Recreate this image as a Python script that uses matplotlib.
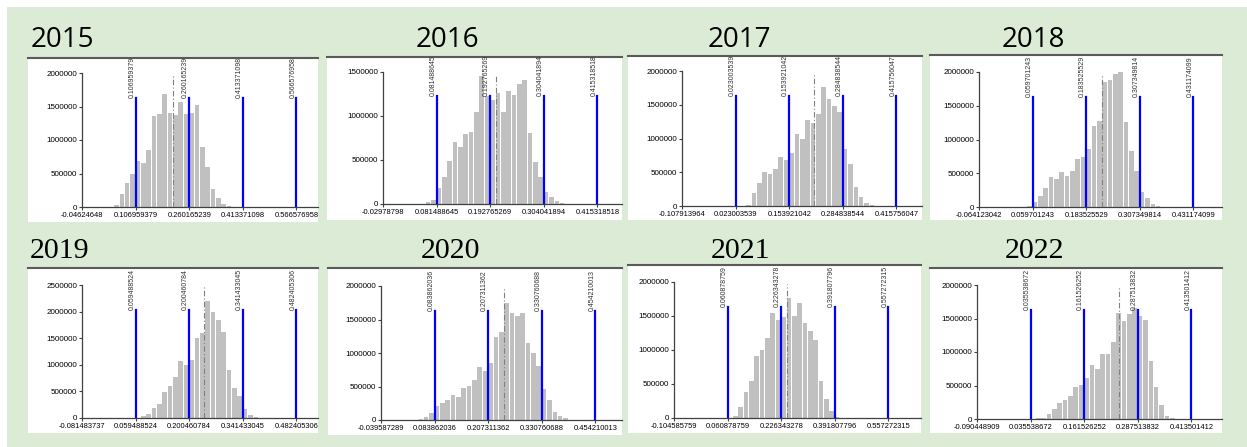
import matplotlib.pyplot as plt
from matplotlib.patches import Rectangle

# data
years = ['2015', '2016', '2017', '2018', '2019', '2020', '2021', '2022']

ticks_2015 = ['-0.04624648', '0.106959379', '0.260165239', '0.413371098', '0.566576958']
ticks_2016 = ['-0.02978798', '0.081488645', '0.192765269', '0.304041894', '0.415318518']
ticks_2017 = ['-0.107913964', '0.023003539', '0.153921042', '0.284838544', '0.415756047']
ticks_2018 = ['-0.064123042', '0.059701243', '0.183525529', '0.307349814', '0.431174099']
ticks_2019 = ['-0.081483737', '0.059488524', '0.200460784', '0.341433045', '0.482405306']
ticks_2020 = ['-0.039587289', '0.083862036', '0.207311362', '0.330760688', '0.454210013']
ticks_2021 = ['-0.104585759', '0.060878759', '0.226343278', '0.391807796', '0.557272315']
ticks_2022 = ['-0.090448909', '0.035538672', '0.161526252', '0.287513832', '0.413501412']

counts_2015 = [30000, 190000, 355000, 495000, 680000, 660000, 850000, 1360000, 1385000, 1680000,
               1410000, 1375000, 1560000, 1390000, 1410000, 1520000, 900000, 590000, 275000, 140000,
               50000, 15000, 5000]
counts_2016 = [4000, 19000, 50000, 179000, 309000, 485000, 706000, 649000, 798000, 821000,
               1050000, 1460000, 1230000, 1183000, 1267000, 1042000, 1283000, 1240000, 1366000, 1412000,
               805000, 477000, 309000, 137000, 76000, 31000, 11000, 4000]
counts_2017 = [20000, 193000, 347000, 500000, 470000, 554000, 728000, 678000, 787000, 1064000,
               1000000, 1272000, 1233000, 1356000, 1757000, 1579000, 1485000, 1396000, 851000, 629000,
               282000, 134000, 50000, 20000, 5000]
counts_2018 = [15000, 74000, 169000, 283000, 442000, 417000, 521000, 462000, 526000, 715000,
               740000, 854000, 1201000, 1276000, 1846000, 1886000, 1970000, 2005000, 1266000, 829000,
               536000, 218000, 139000, 40000, 15000, 5000]
counts_2019 = [8000, 31000, 75000, 187000, 262000, 487000, 606000, 769000, 1075000, 1000000,
               1094000, 1500000, 1594000, 2206000, 2000000, 1844000, 1625000, 894000, 562000, 406000,
               175000, 62000, 19000]
counts_2020 = [15000, 40000, 105000, 214000, 254000, 304000, 374000, 349000, 474000, 504000,
               604000, 788000, 738000, 848000, 1237000, 1312000, 1751000, 1596000, 1551000, 1601000,
               1152000, 1003000, 803000, 464000, 304000, 125000, 55000, 25000]
counts_2021 = [34000, 157000, 378000, 550000, 919000, 1007000, 1179000, 1548000, 1435000, 1484000,
               1764000, 1499000, 1695000, 1400000, 1273000, 1140000, 550000, 280000, 108000, 15000]
counts_2022 = [10000, 20000, 80000, 144000, 234000, 279000, 343000, 478000, 507000, 607000,
               806000, 746000, 965000, 975000, 1154000, 1577000, 1468000, 1562000, 1652000, 1542000,
               1478000, 866000, 473000, 209000, 45000, 10000]

# index of the first bin, counted from the first tick (10 bins per tick step)
first_bin = [6, 7, 12, 9, 10, 7, 11, 11]
means = [0.2146, 0.2041, 0.2133, 0.2205, 0.2396, 0.2447, 0.2428, 0.2425]
ymax = [2000000, 1500000, 2000000, 2000000, 2500000, 2000000, 2000000, 2000000]

xticks = [ticks_2015, ticks_2016, ticks_2017, ticks_2018,
          ticks_2019, ticks_2020, ticks_2021, ticks_2022]
counts = [counts_2015, counts_2016, counts_2017, counts_2018,
          counts_2019, counts_2020, counts_2021, counts_2022]

# layout in pixels (x0, top, x1, bottom)
W, H = 1247, 447
FRAMES = [(28, 58, 318, 222), (327, 57, 622, 220), (628, 56, 922, 220), (930, 55, 1222, 220),
          (28, 268, 318, 433), (328, 268, 622, 435), (628, 265, 921, 433), (930, 268, 1222, 433)]
AXES = [(82, 73, 207), (383, 72, 204), (682, 71, 206), (979, 72, 207),
        (82, 285, 418), (381, 286, 420), (674, 282, 418), (977, 285, 419)]
TITLES = [(62, 47), (447, 47), (739, 47), (1033, 47), (60, 258), (450, 258), (741, 258), (1035, 258)]
TICK_PX = 53.6


def box(x0, y0, x1, y1):
    return [x0 / W, 1 - y1 / H, (x1 - x0) / W, (y1 - y0) / H]


fig = plt.figure(figsize=(W / 100, H / 100), dpi=100)
fig.patch.set_facecolor('white')
fig.add_artist(Rectangle((7 / W, 0), 1, 1 - 7 / H, transform=fig.transFigure,
                         facecolor='#dcebd5', edgecolor='none', zorder=-5))

for i in range(8):
    fx0, fy0, fx1, fy1 = FRAMES[i]
    frame = fig.add_axes(box(fx0, fy0, fx1, fy1))
    frame.set_facecolor('white')
    frame.set_xticks([])
    frame.set_yticks([])
    for s in ['left', 'right', 'bottom']:
        frame.spines[s].set_visible(False)
    frame.spines['top'].set_color('#5a5a5a')
    frame.spines['top'].set_linewidth(1.5)

    al, at, ab = AXES[i]
    ax = fig.add_axes(box(al, at, fx1, ab))
    ax.patch.set_alpha(0)

    vals = [float(t) for t in xticks[i]]
    step = vals[1] - vals[0]
    bw = step / 10
    lefts = [vals[0] + (first_bin[i] + k) * bw for k in range(len(counts[i]))]
    ax.bar(lefts, counts[i], width=bw * 0.86, align='edge', color='#c0c0c0', zorder=2)

    ax.set_xlim(vals[0], vals[0] + step * (fx1 - al) / TICK_PX)
    ax.set_ylim(0, ymax[i])
    ax.set_xticks(vals)
    ax.set_xticklabels(xticks[i], family='Liberation Sans')
    yt = list(range(0, ymax[i] + 1, 500000))
    ax.set_yticks(yt)
    ax.set_yticklabels([str(v) for v in yt], family='Liberation Sans')

    for v, s in zip(vals[1:], xticks[i][1:]):
        ax.axvline(v, 0, 0.815, color='#0000ff', lw=1.6, zorder=3)
        t = ax.text(v, 0.815, s, transform=ax.get_xaxis_transform(), rotation=90,
                    ha='right', va='bottom', fontsize=5, color='#333333',
                    family='Liberation Sans', clip_on=True)
        t.set_clip_path(frame.patch)
    ax.axvline(means[i], 0, 0.985, color='#808080', lw=0.8, ls=(0, (5, 2, 1, 2)), zorder=3)

    for s in ['top', 'right']:
        ax.spines[s].set_visible(False)
    for s in ['left', 'bottom']:
        ax.spines[s].set_color('#404040')
        ax.spines[s].set_linewidth(0.9)
    ax.tick_params(axis='both', length=2.5, width=0.8, color='#404040', labelcolor='black')
    ax.tick_params(axis='x', labelsize=5.4, pad=1)
    ax.tick_params(axis='y', labelsize=5.8, pad=1)
    for lab in ax.get_xticklabels():
        lab.set_clip_on(True)
        lab.set_clip_path(frame.patch)

    tx, ty = TITLES[i]
    if i < 4:
        fig.text(tx / W, 1 - ty / H, years[i], ha='center', va='baseline',
                 fontsize=20, family='Open Sans')
    else:
        fig.text(tx / W, 1 - ty / H, years[i], ha='center', va='baseline',
                 fontsize=21.5, family='Liberation Serif')

fig.savefig('out.png', dpi=100)
